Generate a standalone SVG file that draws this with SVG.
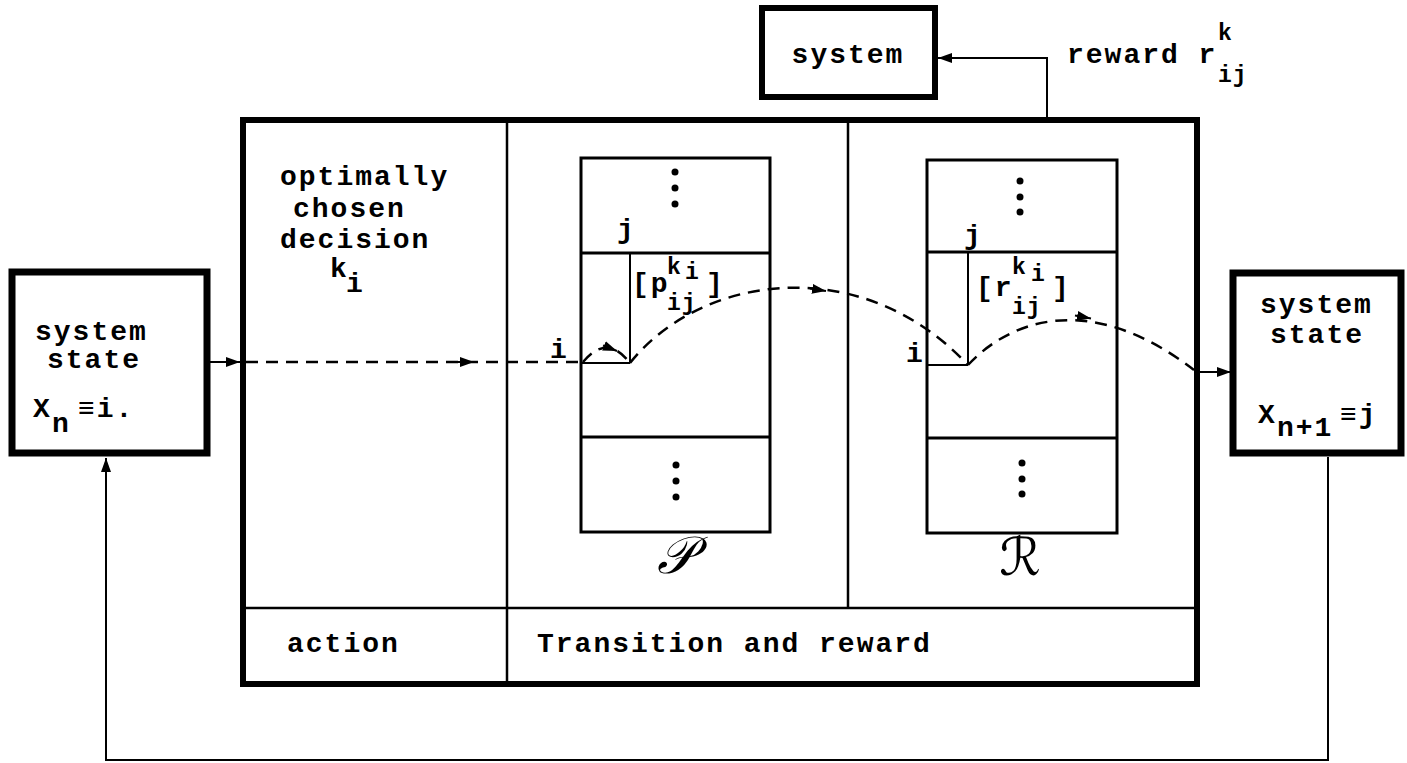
<svg xmlns="http://www.w3.org/2000/svg" width="1407" height="763" viewBox="0 0 1407 763">
<defs>
<style>
.t{font-family:"Liberation Mono","DejaVu Sans Mono",monospace;font-size:28px;font-weight:bold;letter-spacing:2px;fill:#000}
.sm{font-family:"Liberation Mono","DejaVu Sans Mono",monospace;font-size:23px;font-weight:bold;letter-spacing:1px;fill:#000}
.s{font-family:"DejaVu Serif","DejaVu Sans",serif;font-style:italic;font-size:52px;fill:#000}
.nb{fill:none;stroke:#000;stroke-width:7}
.mb{fill:none;stroke:#000;stroke-width:6}
.thin{fill:none;stroke:#000;stroke-width:2.5}
.mx{fill:none;stroke:#000;stroke-width:3}
.dash{fill:none;stroke:#000;stroke-width:2.5;stroke-dasharray:12 8}
.ln{fill:none;stroke:#000;stroke-width:2}
</style>
<marker id="ah" viewBox="0 0 14 10" refX="14" refY="5" markerWidth="14" markerHeight="10" markerUnits="userSpaceOnUse" orient="auto">
<path d="M0,0 L14,5 L0,10 z" fill="#000"/>
</marker>
</defs>
<rect width="1407" height="763" fill="#fff"/>

<g id="node-system">
<rect class="mb" x="762" y="8" width="173" height="89"/>
<text class="t" x="848" y="63" text-anchor="middle">system</text>
</g>

<g id="node-state-n">
<rect class="nb" x="12" y="272" width="195" height="181"/>
<text class="t" x="35" y="340">system</text>
<text class="t" x="47" y="368">state</text>
<text class="t" x="33" y="417">X</text>
<text class="t" x="52" y="432">n</text>
<text class="t" x="78" y="417">≡i.</text>
</g>

<g id="node-state-n1">
<rect class="nb" x="1233" y="273" width="168" height="180"/>
<text class="t" x="1260" y="313">system</text>
<text class="t" x="1270" y="343">state</text>
<text class="t" x="1258" y="423">X</text>
<text class="t" x="1277" y="436">n+1</text>
<text class="t" x="1340" y="423">≡j</text>
</g>

<g id="node-main">
<rect class="mb" x="243" y="120" width="954" height="564"/>
<line class="thin" x1="507" y1="120" x2="507" y2="684"/>
<line class="thin" x1="243" y1="608" x2="1197" y2="608"/>
<line class="thin" x1="848" y1="120" x2="848" y2="608"/>
<text class="t" x="280" y="185">optimally</text>
<text class="t" x="293" y="217">chosen</text>
<text class="t" x="280" y="248">decision</text>
<text class="t" x="330" y="277">k</text>
<text class="t" x="346" y="292">i</text>
<text class="t" x="287" y="652">action</text>
<text class="t" x="537" y="652">Transition and reward</text>
</g>

<g id="node-matrix-p">
<rect class="mx" x="581" y="158" width="189" height="374"/>
<line class="mx" x1="581" y1="253" x2="770" y2="253"/>
<line class="mx" x1="581" y1="437" x2="770" y2="437"/>
<line class="ln" x1="630" y1="253" x2="630" y2="363"/>
<line class="ln" x1="581" y1="363" x2="630" y2="363"/>
<circle cx="675" cy="172" r="3.5"/><circle cx="675" cy="188" r="3.5"/><circle cx="675" cy="204" r="3.5"/>
<circle cx="676" cy="465" r="3.5"/><circle cx="676" cy="481" r="3.5"/><circle cx="676" cy="497" r="3.5"/>
<text class="t" x="617" y="238">j</text>
<text class="t" x="550" y="358">i</text>
<text class="t" x="632" y="292">[p</text>
<text class="sm" x="667" y="274">k</text>
<text class="sm" x="685" y="279">i</text>
<text class="t" x="706" y="292">]</text>
<text class="sm" x="667" y="310">ij</text>
<text class="s" x="675" y="573" text-anchor="middle">𝒫</text>
</g>

<g id="node-matrix-r">
<rect class="mx" x="927" y="160" width="190" height="373"/>
<line class="mx" x1="927" y1="252" x2="1117" y2="252"/>
<line class="mx" x1="927" y1="438" x2="1117" y2="438"/>
<line class="ln" x1="968" y1="252" x2="968" y2="365"/>
<line class="ln" x1="927" y1="365" x2="968" y2="365"/>
<circle cx="1020" cy="181" r="3.5"/><circle cx="1020" cy="197" r="3.5"/><circle cx="1020" cy="212" r="3.5"/>
<circle cx="1022" cy="463" r="3.5"/><circle cx="1022" cy="479" r="3.5"/><circle cx="1022" cy="494" r="3.5"/>
<text class="t" x="964" y="244">j</text>
<text class="t" x="906" y="362">i</text>
<text class="t" x="976" y="296">[r</text>
<text class="sm" x="1012" y="274">k</text>
<text class="sm" x="1031" y="281">i</text>
<text class="t" x="1052" y="296">]</text>
<text class="sm" x="1012" y="314">ij</text>
<text class="s" x="1020" y="575" text-anchor="middle">ℛ</text>
</g>

<g id="label-reward">
<text class="t" x="1067" y="63">reward r</text>
<text class="sm" x="1218" y="40">k</text>
<text class="sm" x="1218" y="82">ij</text>
</g>

<g id="connectors">
<path class="ln" d="M208 362 L240 362" marker-end="url(#ah)"/>
<path class="dash" d="M246 362 L583 362"/>
<path class="ln" d="M458 362 L474 362" marker-end="url(#ah)"/>
<path class="dash" d="M583 362 Q607 333 630 363"/>
<path class="ln" d="M603 345.5 L617 351" marker-end="url(#ah)"/>
<path class="dash" d="M630 363 C700 275 860 250 968 365"/>
<path class="ln" d="M810 288.5 L826 291" marker-end="url(#ah)"/>
<path class="dash" d="M968 365 C1010 320 1090 290 1194 370"/>
<path class="ln" d="M1075 315.5 L1091 318.5" marker-end="url(#ah)"/>
<path class="ln" d="M1197 372 L1231 372" marker-end="url(#ah)"/>
<path class="ln" d="M1047 117 L1047 58 L938 58" marker-end="url(#ah)"/>
<path class="ln" d="M1328 457 L1328 760 L106 760 L106 458" marker-end="url(#ah)"/>
</g>
</svg>
